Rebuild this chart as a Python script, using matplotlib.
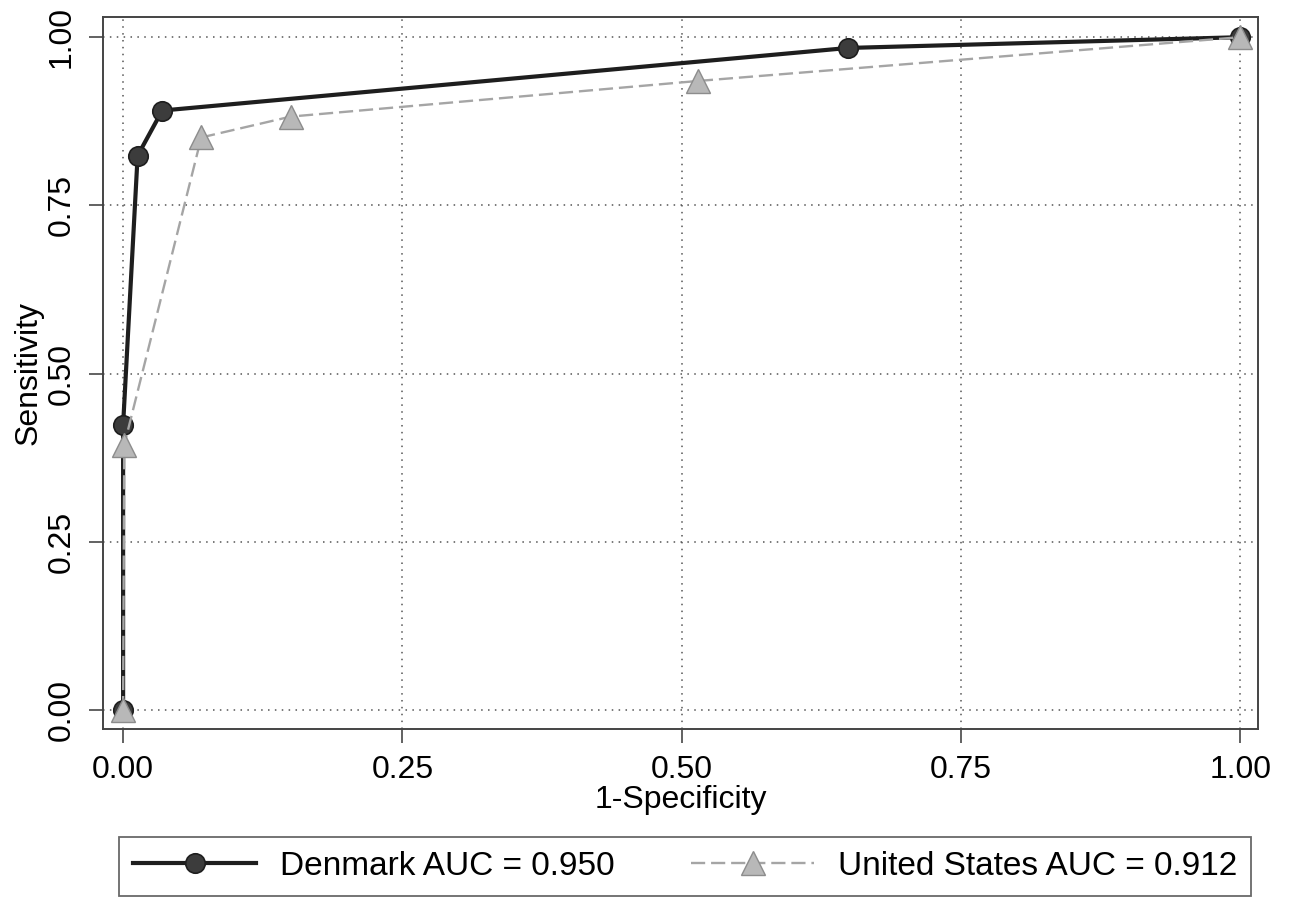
import numpy as np
import matplotlib.pyplot as plt

plt.rcParams['font.family'] = ['Liberation Sans', 'DejaVu Sans']

# ROC points
dk_x = [0.0, 0.0, 0.013, 0.035, 0.649, 1.0]
dk_y = [0.0, 0.424, 0.824, 0.891, 0.984, 1.0]
us_x = [0.0, 0.001, 0.070, 0.150, 0.515, 1.0]
us_y = [0.0, 0.394, 0.851, 0.882, 0.935, 1.0]
dk_label = 'Denmark AUC = 0.950'
us_label = 'United States AUC = 0.912'
ticks = [0.0, 0.25, 0.5, 0.75, 1.0]
tick_labels = ['0.00', '0.25', '0.50', '0.75', '1.00']

W, H = 1293, 901
fig = plt.figure(figsize=(W / 100, H / 100), dpi=100)
ax = fig.add_axes([103 / W, 1 - 729 / H, (1258 - 103) / W, (729 - 17) / H])

ax.plot(dk_x, dk_y, color='#1e1e1e', lw=3.0,
        marker='o', ms=14, mfc='#3c3c3c', mec='#1e1e1e', mew=1.2,
        label=dk_label, zorder=3)
ax.plot(us_x, us_y, color='#a5a5a5', lw=1.7, ls=(0, (6, 2.5)),
        marker='^', ms=17, mfc='#b8b8b8', mec='#8c8c8c', mew=1.0,
        label=us_label, zorder=4)

ax.set_xlim(-0.018, 1.016)
ax.set_ylim(-0.028, 1.03)
ax.set_xticks(ticks)
ax.set_xticklabels(tick_labels)
ax.set_yticks(ticks)
ax.set_yticklabels(tick_labels, rotation=90, va='center')
ax.tick_params(labelsize=23, length=10, width=1.3, color='#555555', pad=9)
ax.grid(True, ls=(0, (1, 3.5)), color='#555555', lw=1.1)
for s in ax.spines.values():
    s.set_color('#444444')
    s.set_linewidth(1.4)

ax.set_xlabel('1-Specificity', fontsize=23, labelpad=0)
ax.set_ylabel('Sensitivity', fontsize=23, labelpad=2)

leg = fig.legend(loc='upper left', ncol=2,
                 bbox_to_anchor=(119 / W, 1 - 837 / H),
                 fontsize=24, frameon=True, fancybox=False, edgecolor='#444444',
                 handlelength=3.7, handletextpad=0.7, columnspacing=2.3,
                 borderpad=0.42, borderaxespad=0)
leg.get_frame().set_linewidth(1.3)

fig.savefig('out.png', dpi=100)
